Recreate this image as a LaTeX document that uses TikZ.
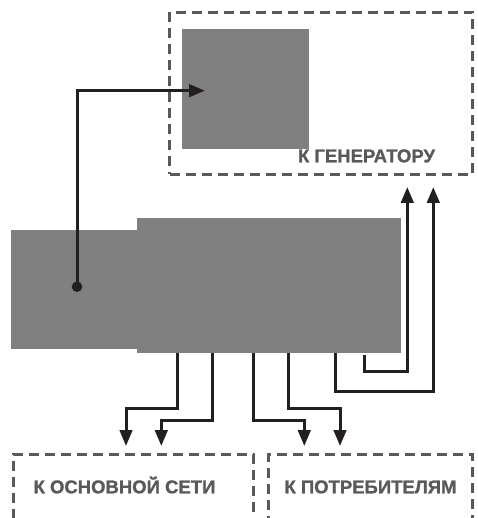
\documentclass[tikz,border=0pt]{standalone}
\usepackage{fontspec}
\newfontfamily\zonefont{Liberation Sans Bold}[FakeBold=1.2]
\usetikzlibrary{arrows.meta}
\definecolor{blockgray}{HTML}{808080}
\definecolor{zonegray}{HTML}{595959}
\definecolor{wirecol}{HTML}{231F20}

\begin{document}
\begin{tikzpicture}[line join=miter,x=1pt,y=-1pt,
  block/.style={fill=blockgray,inner sep=0pt,anchor=north west},
  zone/.style={draw=zonegray,line width=3pt,dash pattern=on 10pt off 6pt,inner sep=0pt,anchor=north west},
  zonelabel/.style={text=zonegray,font=\zonefont\fontsize{18.5}{20}\selectfont,inner sep=0pt,anchor=base},
  wire/.style={draw=wirecol,line width=3pt,-{Triangle[length=16pt,width=12.5pt]}}]
\clip (0,0) rectangle (477,518);

% blocks
\node [block,minimum width=127pt,minimum height=119.5pt] (gen) at (182,29.3) {};
\node [block,minimum width=127pt,minimum height=119.5pt] (left) at (11,229.3) {};
\node [block,minimum width=263.7pt,minimum height=135pt] (main) at (137,217.7) {};

% dashed zones
\node [zone,minimum width=303pt,minimum height=162pt] (genzone) at (168,10.7) {};
\node [zone,minimum width=239.4pt,minimum height=90pt] (gridzone) at (12.3,452.7) {};
\node [zone,minimum width=204.3pt,minimum height=90pt] (loadzone) at (266.7,452.7) {};
\node [zonelabel] (genlabel) at (366.5,162.3) {К ГЕНЕРАТОРУ};
\node [zonelabel] (gridlabel) at (124.5,493.3) {К ОСНОВНОЙ СЕТИ};
\node [zonelabel] (loadlabel) at (370.5,493.3) {К ПОТРЕБИТЕЛЯМ};

% wire ends
\coordinate (tap) at (77,286.7);
\coordinate (genin) at (205,90.7);
\coordinate (o1) at (177.3,352.7);
\coordinate (o2) at (212.7,352.7);
\coordinate (o3) at (253,352.7);
\coordinate (o4) at (288.3,352.7);
\coordinate (o5) at (335,352.7);
\coordinate (o6) at (364.3,355);
\coordinate (in1) at (126,446);
\coordinate (in2) at (161.3,446);
\coordinate (in3) at (304.3,446);
\coordinate (in4) at (340,446);
\coordinate (up1) at (407.3,187);
\coordinate (up2) at (433.3,187);

\draw [wire] (tap) |- (genin);
\fill [wirecol] (tap) circle (5.3);
\draw [wire] (o1) -- ++(0,55.6) -| (in1);
\draw [wire] (o2) -- ++(0,67.3) -| (in2);
\draw [wire] (o3) -- ++(0,67.3) -| (in3);
\draw [wire] (o4) -- ++(0,55.6) -| (in4);
\draw [wire] (o6) |- (up1 |- 0,371) -- (up1);
\draw [wire] (o5) |- (up2 |- 0,391.7) -- (up2);
\end{tikzpicture}
\end{document}
